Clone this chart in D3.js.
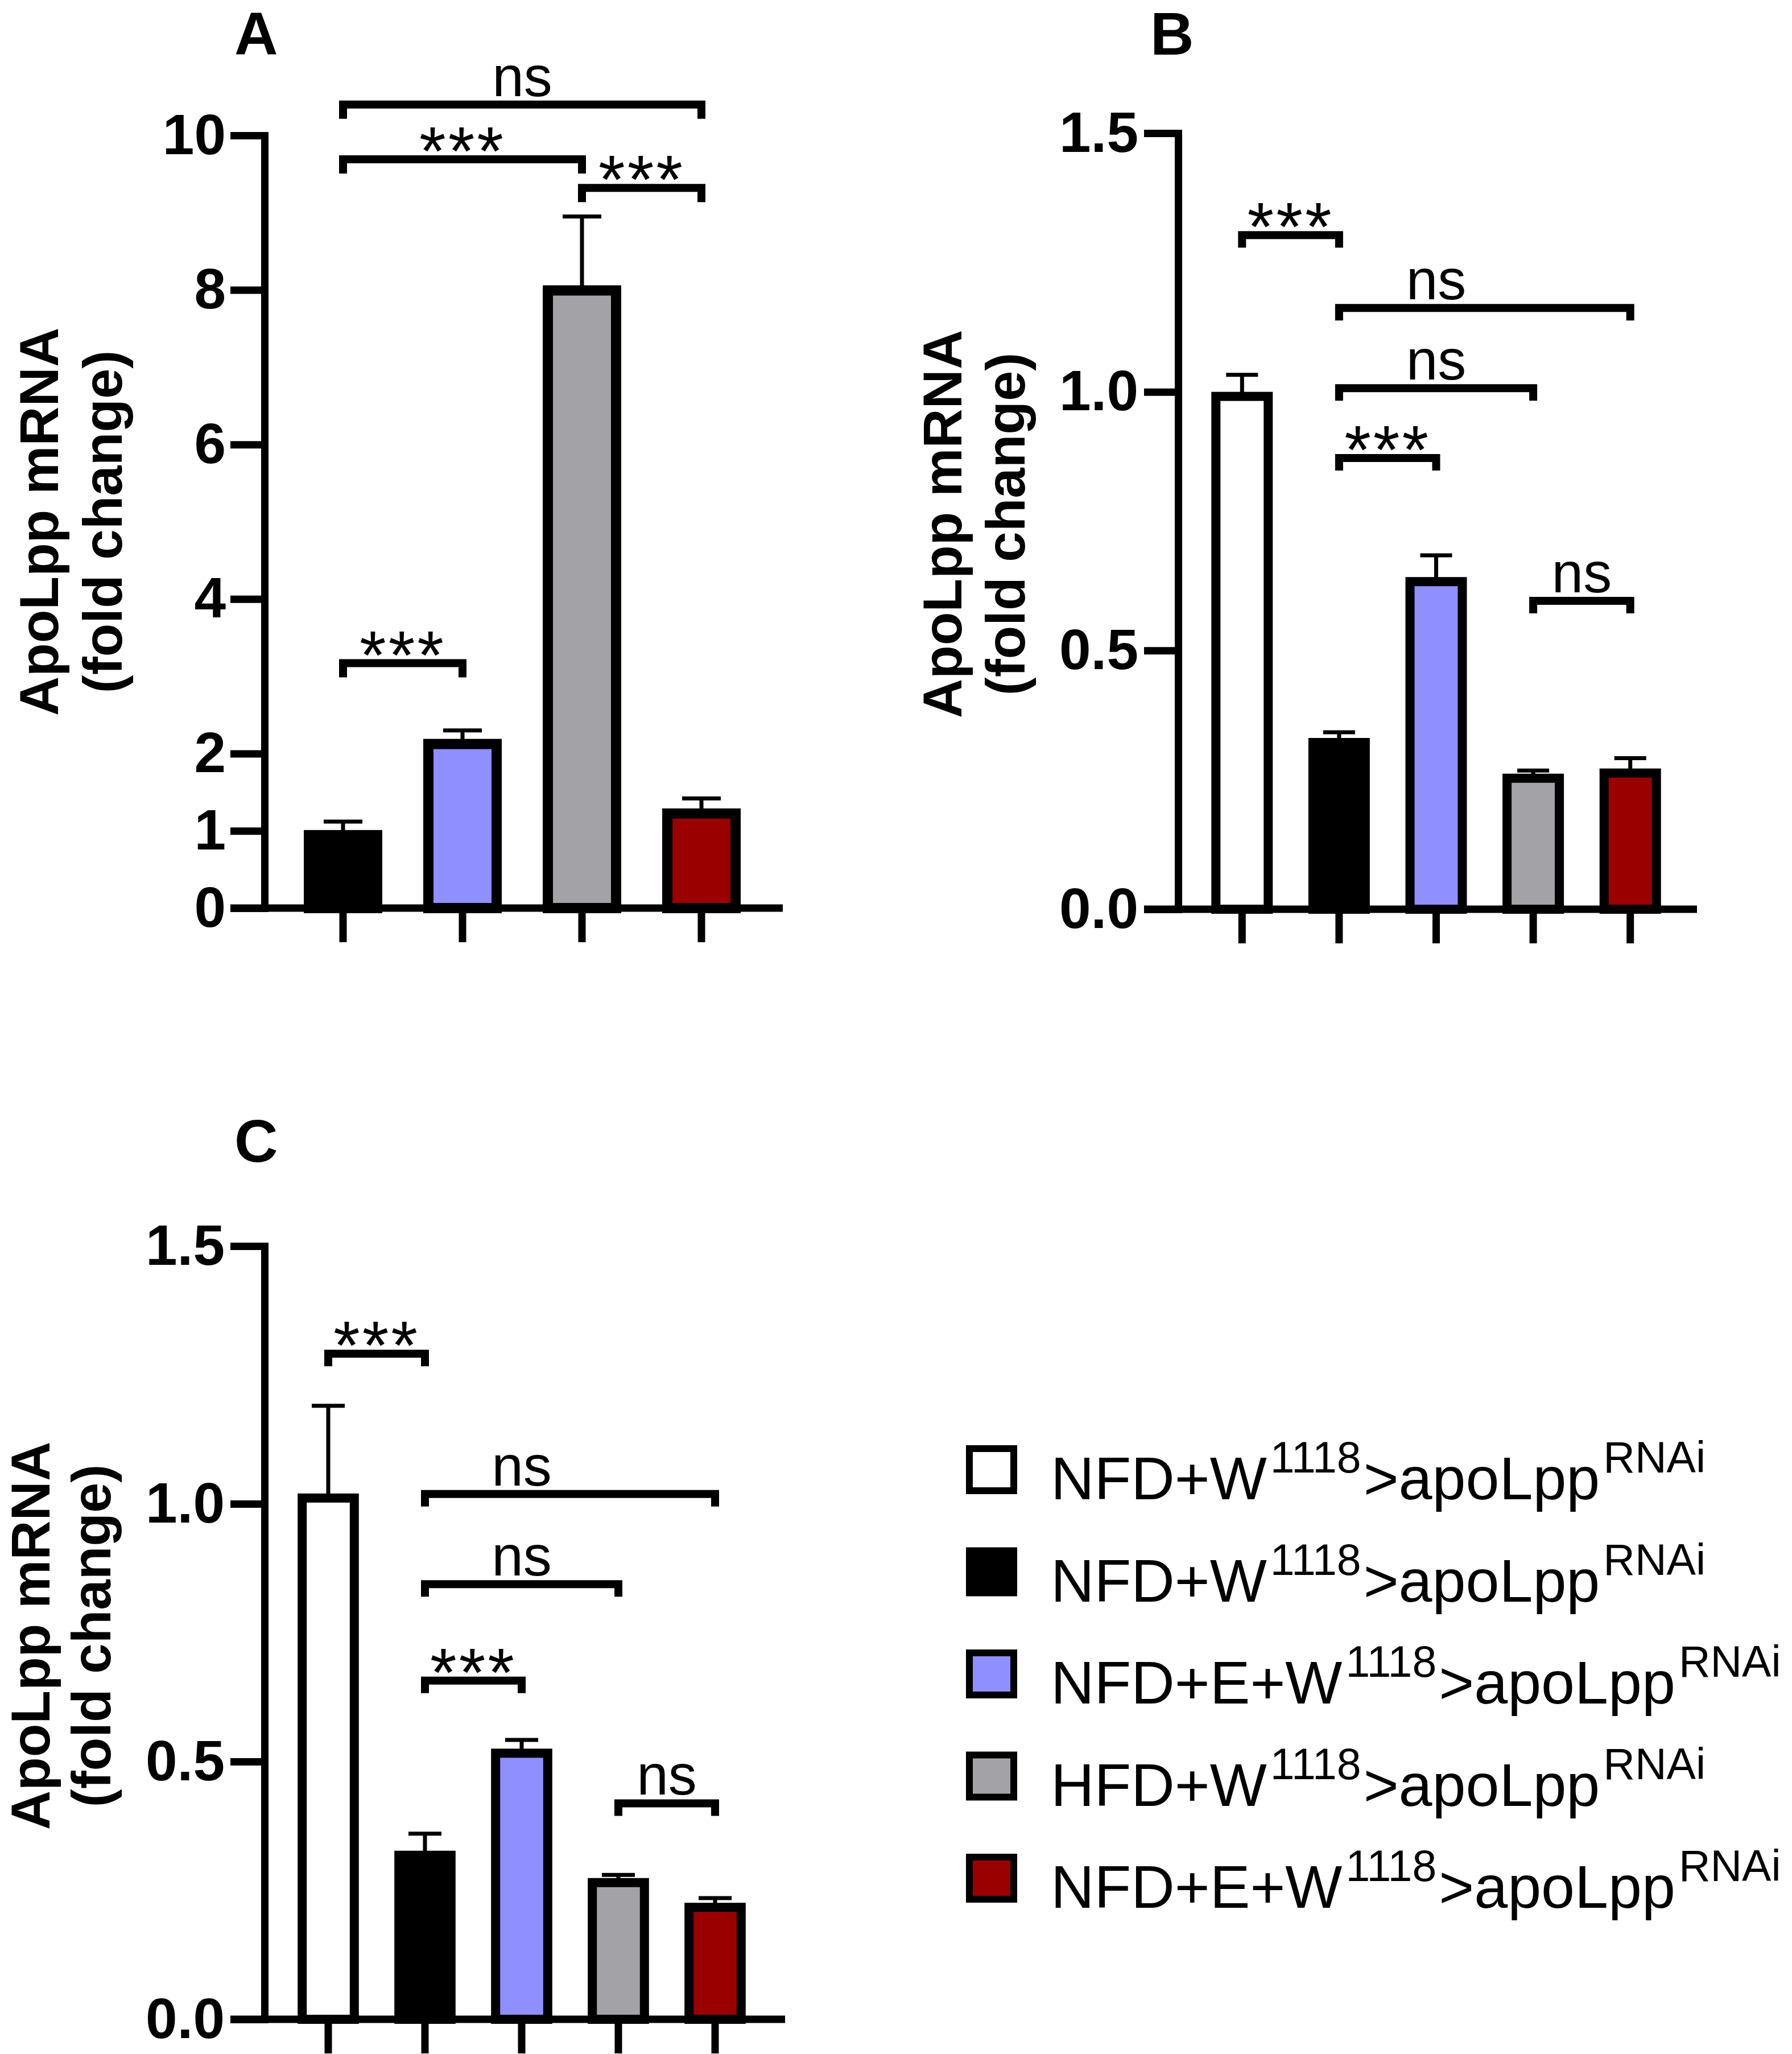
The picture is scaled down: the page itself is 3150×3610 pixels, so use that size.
<!DOCTYPE html>
<html>
<head>
<meta charset="utf-8">
<script src="https://cdn.jsdelivr.net/npm/d3@7"></script>
<style>
  body { margin: 0; background: #fff; }
  svg { display: block; }
</style>
</head>
<body>
<div id="chart"></div>
<script>
// ---- data ----
const groupIds = ["ctrl", "nfd", "nfdE", "hfd", "nfdE2"]
const groupFills = ["#ffffff", "#000000", "#8f8fff", "#a3a2a6", "#9b0000"]
const legendLabels = ["NFD+W", "NFD+W", "NFD+E+W", "HFD+W", "NFD+E+W"]
const legendSup1 = "1118"
const legendMid = ">apoLpp"
const legendSup2 = "RNAi"

const yTitle = ["ApoLpp mRNA", "(fold change)"]

// panel A
const groupsA = ["nfd", "nfdE", "hfd", "nfdE2"]
const meansA = [1.01, 2.19, 8.06, 1.29]
const errA = [0.11, 0.11, 0.89, 0.13]
const ticksA = [0, 1, 2, 4, 6, 8, 10]
const bracketsA = [
    {from: "nfd", to: "nfdE2", y: 10.40, label: "ns"},
    {from: "nfd", to: "hfd", y: 9.69, label: "***"},
    {from: "hfd", to: "nfdE2", y: 9.32, label: "***"},
    {from: "nfd", to: "nfdE", y: 3.17, label: "***"}
]

// panel B
const groupsB = ["ctrl", "nfd", "nfdE", "hfd", "nfdE2"]
const meansB = [1.0, 0.331, 0.642, 0.262, 0.272]
const errB = [0.033, 0.011, 0.042, 0.006, 0.02]
const ticksB = [0, 0.5, 1.0, 1.5]
// labelTo: the label is centred over from..labelTo (as in the source figure)
const bracketsB = [
    {from: "ctrl", to: "nfd", y: 1.303, label: "***"},
    {from: "nfd", to: "nfdE2", y: 1.162, label: "ns", labelTo: "hfd"},
    {from: "nfd", to: "hfd", y: 1.007, label: "ns"},
    {from: "nfd", to: "nfdE", y: 0.872, label: "***"},
    {from: "hfd", to: "nfdE2", y: 0.596, label: "ns"}
]

// panel C
const groupsC = ["ctrl", "nfd", "nfdE", "hfd", "nfdE2"]
const meansC = [1.02, 0.327, 0.525, 0.274, 0.226]
const errC = [0.17, 0.033, 0.017, 0.006, 0.009]
const ticksC = [0, 0.5, 1.0, 1.5]
const bracketsC = [
    {from: "ctrl", to: "nfd", y: 1.291, label: "***"},
    {from: "nfd", to: "nfdE2", y: 1.019, label: "ns", labelTo: "hfd"},
    {from: "nfd", to: "hfd", y: 0.844, label: "ns"},
    {from: "nfd", to: "nfdE", y: 0.657, label: "***"},
    {from: "hfd", to: "nfdE2", y: 0.419, label: "ns"}
]

// ---- layout ----
const W = 3150, H = 3610
const FONT = "'Liberation Sans', Arial, Helvetica, sans-serif"
const LINE = 13
const fillOf = d3.scaleOrdinal().domain(groupIds).range(groupFills)

const svg = d3.select("#chart").append("svg")
    .attr("width", W)
    .attr("height", H)
    .attr("viewBox", [0, 0, W, H])
    .attr("font-family", FONT)

svg.append("rect").attr("width", W).attr("height", H).attr("fill", "#fff")

function drawPanel(cfg) {
    const g = svg.append("g").attr("class", "panel-" + cfg.letter)

    const x = d3.scaleBand()
        .domain(cfg.groups)
        .range([cfg.bandStart, cfg.bandEnd])
        .paddingInner(cfg.pad)
        .paddingOuter(cfg.pad / 2)

    const y = d3.scaleLinear()
        .domain([0, cfg.yMax])
        .range([cfg.yBottom, cfg.yTop])

    const rows = cfg.groups.map((k, i) => ({key: k, mean: cfg.means[i], err: cfg.errs[i]}))
    const sw = cfg.barStroke
    const cx = k => x(k) + x.bandwidth() / 2

    // error bars (upper only), drawn first so the bar border sits on top
    const eb = g.append("g").attr("class", "errors")
        .attr("stroke", "#000")
        .attr("stroke-width", 7)
    eb.selectAll("line.stem")
        .data(rows)
        .join("line")
        .attr("class", "stem")
        .attr("x1", d => cx(d.key))
        .attr("x2", d => cx(d.key))
        .attr("y1", d => y(d.mean) + sw)
        .attr("y2", d => y(d.mean + d.err))
    eb.selectAll("line.cap")
        .data(rows)
        .join("line")
        .attr("class", "cap")
        .attr("x1", d => cx(d.key) - cfg.capW / 2)
        .attr("x2", d => cx(d.key) + cfg.capW / 2)
        .attr("y1", d => y(d.mean + d.err))
        .attr("y2", d => y(d.mean + d.err))

    // bars, stroke kept inside the outline
    g.append("g").attr("class", "bars")
        .selectAll("rect")
        .data(rows)
        .join("rect")
        .attr("x", d => x(d.key) + sw / 2)
        .attr("y", d => y(d.mean) + sw / 2)
        .attr("width", x.bandwidth() - sw)
        .attr("height", d => y(0) - y(d.mean) - sw / 2)
        .attr("fill", d => fillOf(d.key))
        .attr("stroke", "#000")
        .attr("stroke-width", sw)

    // y axis
    const yAxis = g.append("g")
        .attr("transform", `translate(${cfg.axisX},0)`)
        .call(d3.axisLeft(y)
            .tickValues(cfg.ticks)
            .tickFormat(cfg.fmt)
            .tickSize(60)
            .tickSizeOuter(0)
            .tickPadding(cfg.tickPad))
    yAxis.select(".domain")
        .attr("stroke-width", LINE)
        .attr("stroke-linecap", "square")
    yAxis.selectAll(".tick line").attr("stroke-width", LINE)
    yAxis.selectAll(".tick text")
        .attr("font-family", FONT)
        .attr("font-weight", "bold")
        .attr("font-size", 100)
        .attr("fill", "#000")

    // x axis baseline + ticks, no labels
    g.append("line")
        .attr("x1", cfg.axisX - 60)
        .attr("x2", cfg.xEnd)
        .attr("y1", y(0))
        .attr("y2", y(0))
        .attr("stroke", "#000")
        .attr("stroke-width", LINE)
    const xAxis = g.append("g")
        .attr("transform", `translate(0,${y(0)})`)
        .call(d3.axisBottom(x).tickSize(60).tickFormat(""))
    xAxis.select(".domain").remove()
    xAxis.selectAll(".tick line").attr("stroke-width", LINE)

    // significance brackets
    const br = g.append("g").attr("class", "brackets")
    br.selectAll("path")
        .data(cfg.brackets)
        .join("path")
        .attr("d", d => `M${cx(d.from)},${y(d.y) + cfg.leg}V${y(d.y)}H${cx(d.to)}V${y(d.y) + cfg.leg}`)
        .attr("fill", "none")
        .attr("stroke", "#000")
        .attr("stroke-width", 14)
        .attr("stroke-linejoin", "miter")
    br.selectAll("text")
        .data(cfg.brackets)
        .join("text")
        .attr("x", d => (cx(d.from) + cx(d.labelTo || d.to)) / 2)
        .attr("y", d => d.label === "ns" ? y(d.y) - 15 : y(d.y) + 27)
        .attr("text-anchor", "middle")
        .attr("font-size", d => d.label === "ns" ? 100 : 120)
        .attr("letter-spacing", d => d.label === "ns" ? 0 : 4)
        .attr("fill", "#000")
        .text(d => d.label)

    // y title, two rotated lines
    g.append("g")
        .selectAll("text")
        .data(yTitle)
        .join("text")
        .attr("transform", (d, i) => `translate(${cfg.titleX[i]},${cfg.titleY}) rotate(-90)`)
        .attr("text-anchor", "middle")
        .attr("font-weight", "bold")
        .attr("font-size", 96)
        .attr("fill", "#000")
        .text(d => d)

    // panel letter
    g.append("text")
        .attr("x", cfg.letterX)
        .attr("y", cfg.letterY)
        .attr("font-weight", "bold")
        .attr("font-size", 106)
        .attr("fill", "#000")
        .text(cfg.letter)
}

drawPanel({
    letter: "A", groups: groupsA, means: meansA, errs: errA, ticks: ticksA,
    brackets: bracketsA, yMax: 10, fmt: d3.format("d"),
    axisX: 465, yTop: 238, yBottom: 1596, bandStart: 498, bandEnd: 1338, pad: 0.343,
    xEnd: 1376, barStroke: 18, capW: 68, leg: 25, tickPad: 8,
    titleX: [102, 214], titleY: 917, letterX: 412, letterY: 96
})

drawPanel({
    letter: "B", groups: groupsB, means: meansB, errs: errB, ticks: ticksB,
    brackets: bracketsB, yMax: 1.5, fmt: d3.format(".1f"),
    axisX: 2071, yTop: 234, yBottom: 1598, bandStart: 2098, bandEnd: 2951, pad: 0.367,
    xEnd: 2983, barStroke: 16, capW: 56, leg: 22, tickPad: 10,
    titleX: [1690, 1801], titleY: 921, letterX: 2022, letterY: 96
})

drawPanel({
    letter: "C", groups: groupsC, means: meansC, errs: errC, ticks: ticksC,
    brackets: bracketsC, yMax: 1.5, fmt: d3.format(".1f"),
    axisX: 465, yTop: 2190, yBottom: 3549, bandStart: 492, bandEnd: 1342, pad: 0.367,
    xEnd: 1380, barStroke: 16, capW: 58, leg: 22, tickPad: 10,
    titleX: [87, 194], titleY: 2875, letterX: 412, letterY: 2042
})

// ---- legend ----
const legend = svg.append("g").attr("class", "legend")
const rowY = d3.scalePoint().domain(groupIds).range([2540, 3258])
const lsw = 12

legend.selectAll("rect")
    .data(groupIds)
    .join("rect")
    .attr("x", 1698 + lsw / 2)
    .attr("y", d => rowY(d) + lsw / 2)
    .attr("width", 90 - lsw)
    .attr("height", 86 - lsw)
    .attr("fill", d => fillOf(d))
    .attr("stroke", "#000")
    .attr("stroke-width", lsw)

const ltext = legend.selectAll("text")
    .data(groupIds)
    .join("text")
    .attr("x", 1847)
    .attr("y", d => rowY(d) + 95)
    .attr("font-size", 106)
    .attr("fill", "#000")

ltext.append("tspan").text((d, i) => legendLabels[i])
ltext.append("tspan").attr("font-size", 77).attr("dy", -47).attr("dx", 6).text(legendSup1)
ltext.append("tspan").attr("dy", 47).attr("dx", 4).text(legendMid)
ltext.append("tspan").attr("font-size", 77).attr("dy", -47).attr("dx", 6).text(legendSup2)
</script>
</body>
</html>
